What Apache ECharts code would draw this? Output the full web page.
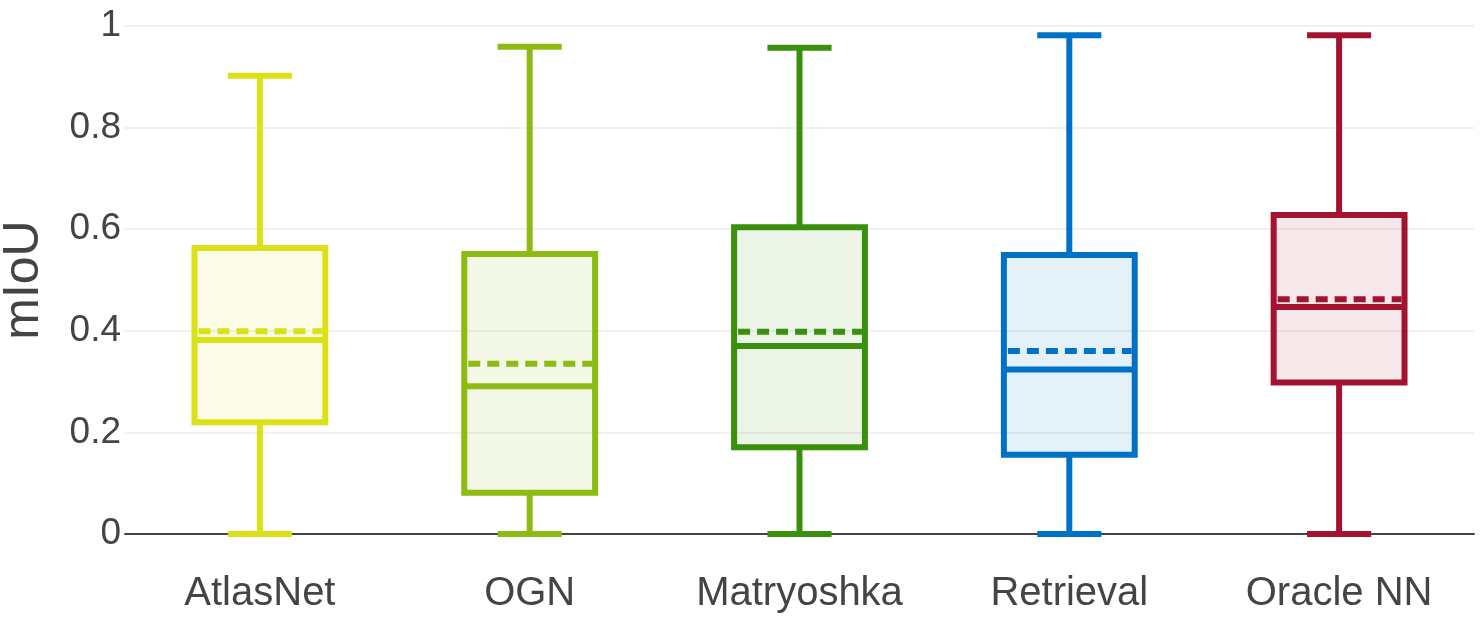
<!DOCTYPE html>
<html>
<head>
<meta charset="utf-8">
<script src="https://cdn.jsdelivr.net/npm/echarts@6/dist/echarts.min.js"></script>
<style>
  html, body { margin: 0; padding: 0; background: #fff; }
  #chart { width: 1484px; height: 634px; }
</style>
</head>
<body>
<div id="chart"></div>
<script>
const categories = ['AtlasNet', 'OGN', 'Matryoshka', 'Retrieval', 'Oracle NN'];
const minValues = [0, 0, 0, 0, 0];
const q1Values = [0.220, 0.081, 0.171, 0.156, 0.298];
const medianValues = [0.382, 0.291, 0.370, 0.324, 0.447];
const q3Values = [0.563, 0.551, 0.604, 0.549, 0.628];
const maxValues = [0.902, 0.959, 0.957, 0.982, 0.982];
const meanValues = [0.399, 0.335, 0.398, 0.360, 0.462];
const yTicks = [0, 0.2, 0.4, 0.6, 0.8, 1];

const colors = ['#dce117', '#8dbb13', '#3a900c', '#0072c5', '#a3132f'];

const boxData = categories.map((c, i) => [
  i, minValues[i], q1Values[i], medianValues[i], q3Values[i], maxValues[i], meanValues[i]
]);

function renderBox(params, api) {
  const i = api.value(0);
  const color = colors[params.dataIndex];
  const pMin = api.coord([i, api.value(1)]);
  const pQ1 = api.coord([i, api.value(2)]);
  const pMed = api.coord([i, api.value(3)]);
  const pQ3 = api.coord([i, api.value(4)]);
  const pMax = api.coord([i, api.value(5)]);
  const pMean = api.coord([i, api.value(6)]);
  const cx = pMed[0];
  const bw = api.size([1, 0])[0] * 0.485;
  const cap = bw * 0.49;
  const lw = 6;
  const line = (x1, y1, x2, y2, dash) => ({
    type: 'line',
    shape: { x1: x1, y1: y1, x2: x2, y2: y2 },
    style: { stroke: color, lineWidth: lw, lineDash: dash || null, lineCap: 'butt' }
  });
  return {
    type: 'group',
    children: [
      line(cx, pQ1[1], cx, pMin[1]),
      line(cx, pQ3[1], cx, pMax[1]),
      line(cx - cap / 2, pMin[1], cx + cap / 2, pMin[1]),
      line(cx - cap / 2, pMax[1], cx + cap / 2, pMax[1]),
      {
        type: 'rect',
        shape: { x: cx - bw / 2, y: pQ3[1], width: bw, height: pQ1[1] - pQ3[1] },
        style: { fill: echarts.color.modifyAlpha(color, 0.1), stroke: color, lineWidth: lw }
      },
      line(cx - bw / 2, pMed[1], cx + bw / 2, pMed[1]),
      line(cx - bw / 2 + lw / 2 + 1, pMean[1], cx + bw / 2 - lw / 2, pMean[1], [12, 7])
    ]
  };
}

const chart = echarts.init(document.getElementById('chart'));
chart.setOption({
  animation: false,
  textStyle: { fontFamily: 'Liberation Sans, Arial, sans-serif' },
  grid: { left: 125, right: 10, top: 26, bottom: 100, containLabel: false, outerBoundsMode: 'none' },
  xAxis: {
    type: 'category',
    data: categories,
    axisTick: { show: false },
    axisLine: { lineStyle: { color: '#444', width: 2 } },
    axisLabel: { color: '#444', fontSize: 40, margin: 40, interval: 0 }
  },
  yAxis: {
    type: 'value',
    min: yTicks[0],
    max: yTicks[yTicks.length - 1],
    interval: 0.2,
    name: 'mIoU',
    nameLocation: 'middle',
    nameGap: 76,
    nameTextStyle: { color: '#444', fontSize: 50 },
    axisLine: { show: false },
    axisTick: { show: false },
    axisLabel: { color: '#444', fontSize: 37, margin: 4 },
    splitLine: { lineStyle: { color: '#ebebeb', width: 1.5 } }
  },
  series: [{
    type: 'custom',
    renderItem: renderBox,
    data: boxData,
    encode: { x: 0, y: [1, 2, 3, 4, 5, 6] }
  }]
});
</script>
</body>
</html>
